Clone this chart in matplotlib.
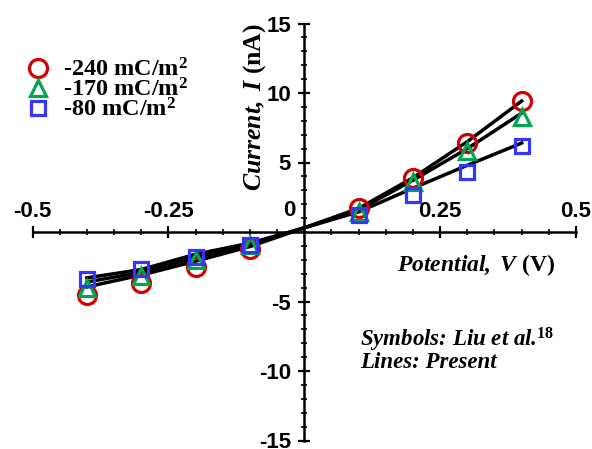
import matplotlib
matplotlib.use("Agg")
import matplotlib.pyplot as plt
from matplotlib.lines import Line2D
from matplotlib.ticker import MultipleLocator

plt.rcParams['mathtext.fontset'] = 'custom'
plt.rcParams['mathtext.rm'] = 'Liberation Serif'
plt.rcParams['mathtext.it'] = 'Liberation Serif:italic'
plt.rcParams['mathtext.bf'] = 'Liberation Serif:bold'
plt.rcParams['mathtext.bfit'] = 'Liberation Serif:bold:italic'

# measured points (Liu et al.)
x_pts = [-0.4, -0.3, -0.2, -0.1, 0.1, 0.2, 0.3, 0.4]
i_240 = [-4.5, -3.7, -2.5, -1.25, 1.7, 3.85, 6.4, 9.45]
i_170 = [-4.05, -3.15, -2.0, -0.95, 1.45, 3.6, 5.8, 8.3]
i_80 = [-3.35, -2.65, -1.8, -0.95, 1.2, 2.65, 4.3, 6.2]

# model lines (present)
x_line = [-0.4, -0.3, -0.2, -0.1, 0.0, 0.1, 0.2, 0.3, 0.4]
line_240 = [-3.95, -3.1, -2.1, -1.05, 0.3, 1.7, 3.9, 6.5, 9.42]
line_170 = [-3.6, -2.9, -1.85, -0.9, 0.3, 1.6, 3.72, 6.0, 8.55]
line_80 = [-3.3, -2.7, -1.6, -0.8, 0.3, 1.45, 3.15, 4.8, 6.4]

labels = ['-240 mC/m$^{\\mathbf{2}}$', '-170 mC/m$^{\\mathbf{2}}$', '-80 mC/m$^{\\mathbf{2}}$']
colors = ['#d40000', '#00a651', '#3535ff']
markers = ['o', '^', 's']
msizes = [13, 12, 10]

xticks = [-0.5, -0.25, 0.25, 0.5]
xticklabels = ['-0.5', '-0.25', '0.25', '0.5']
yticks = [-15, -10, -5, 5, 10, 15]
yticklabels = ['-15', '-10', '-5', '5', '10', '15']

fig = plt.figure(figsize=(5.92, 4.49), dpi=100)
ax = fig.add_axes([32.5 / 592, 8.5 / 449, 543.5 / 592, 417 / 449])
ax.set_xlim(-0.5, 0.5)
ax.set_ylim(-15, 15)

for yl in [line_240, line_170, line_80]:
    ax.plot(x_line, yl, color='black', lw=2.5, zorder=3)

handles = []
for ys, c, m, ms, lab in zip([i_240, i_170, i_80], colors, markers, msizes, labels):
    ax.plot(x_pts, ys, ls='none', marker=m, ms=ms, mfc='none', mec=c, mew=2.3, zorder=4)
    handles.append(Line2D([], [], ls='none', marker=m, ms=ms, mfc='none', mec=c, mew=2.3, label=lab))

for side in ['left', 'bottom', 'top']:
    ax.spines[side].set_position(('data', 0))
ax.spines['top'].set_visible(False)
ax.spines['right'].set_visible(False)
ax.spines['left'].set_linewidth(1.8)
ax.spines['bottom'].set_linewidth(1.8)

ax.set_xticks(xticks)
ax.set_xticklabels(xticklabels)
ax.set_yticks(yticks)
ax.set_yticklabels(yticklabels)
ax.xaxis.set_minor_locator(MultipleLocator(0.05))
ax.yaxis.set_minor_locator(MultipleLocator(1))
ax.tick_params(axis='x', which='both', bottom=True, top=False, labelbottom=False, labeltop=True)
ax.tick_params(which='major', direction='inout', length=9, width=1.6, labelsize=16, pad=3)
ax.tick_params(which='minor', direction='inout', length=4.5, width=1.2)
ax.tick_params(axis='y', which='major', pad=5)
for t in ax.get_xticklabels() + ax.get_yticklabels():
    t.set_fontweight('bold')
    t.set_family('Liberation Sans')

fig.text(289 / 592, 1 - 211 / 449, '0', fontsize=16, fontweight='bold', family='Liberation Sans',
         ha='center', va='center')

fig.text(255 / 592, 1 - 107 / 449, r'$\mathbfit{Current,\ I}\ \mathbf{(nA)}$', fontsize=18.5,
         rotation=90, ha='center', va='center')
fig.text(476 / 592, 1 - 265 / 449, r'$\mathbfit{Potential,\ V}\ \mathbf{(V)}$', fontsize=17,
         ha='center', va='center')

fig.text(360 / 592, 1 - 340 / 449, 'Symbols: Liu et al.$^{\\mathbf{18}}$', fontsize=16.5,
         family='Liberation Serif', fontweight='bold', fontstyle='italic', va='center')
fig.text(360 / 592, 1 - 363 / 449, 'Lines: Present', fontsize=16.5,
         family='Liberation Serif', fontweight='bold', fontstyle='italic', va='center')

fig.legend(handles=handles, loc='upper left', bbox_to_anchor=(11.5 / 592, 1 - 46 / 449),
           frameon=False, handlelength=1.2, handletextpad=0.4, labelspacing=-0.12,
           borderpad=0, prop={'family': 'Liberation Serif', 'weight': 'bold', 'size': 17.5})

fig.savefig('out.png', dpi=100)
